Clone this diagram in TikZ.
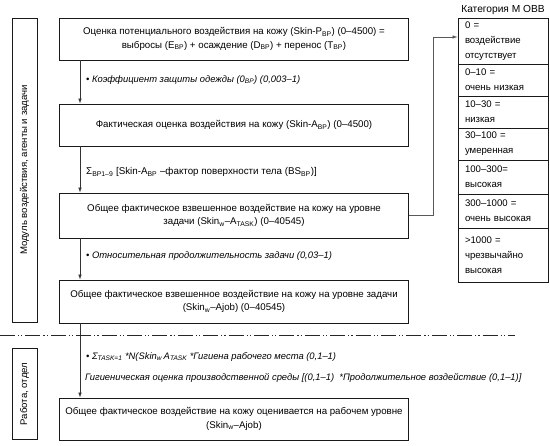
\documentclass[tikz,border=0pt]{standalone}
\usepackage{fontspec}
\setmainfont{Liberation Sans}
\usetikzlibrary{arrows.meta}
\begin{document}
\begin{tikzpicture}[x=1pt,y=-1pt,
  box/.style={draw=black!90, line width=0.8pt, minimum width=349pt, align=center, inner sep=2pt,
    font=\fontsize{9.7}{13.5}\selectfont},
  side/.style={draw=black!90, line width=0.8pt, minimum width=25pt, inner sep=0pt},
  row/.style={draw=black!90, line width=0.8pt, minimum width=90pt, text width=76pt, align=left,
    inner xsep=7pt, inner ysep=0pt, font=\fontsize{9.6}{15}\selectfont},
  lbl/.style={anchor=west, inner sep=0pt, font=\fontsize{9.4}{12}\selectfont\itshape},
  arr/.style={line width=0.6pt, draw=black!80, -{Latex[length=5pt,width=3.5pt]}}
]
\useasboundingbox (0,0) rectangle (550,446);

% left side boxes
\node[side, minimum height=304pt] (s1) at (24.5,170) {};
\node[rotate=90, font=\fontsize{9.6}{11}\selectfont] (s1t) at (s1.center) {Модуль воздействия, агенты и задачи};
\node[side, minimum height=91pt] (s2) at (24.5,394) {};
\node[rotate=90, font=\fontsize{9.6}{11}\selectfont] (s2t) at (s2.center) {Работа, отдел};

% main boxes
\node[box, minimum height=42pt] (b1) at (234,39)
  {Оценка потенциального воздействия на кожу (Skin-P\textsubscript{BP}) (0–4500) =\\
   выбросы (E\textsubscript{BP}) + осаждение (D\textsubscript{BP}) + перенос (T\textsubscript{BP})};
\node[box, minimum height=42pt] (b2) at (234,125)
  {Фактическая оценка воздействия на кожу (Skin-A\textsubscript{BP}) (0–4500)};
\node[box, minimum height=45pt] (b3) at (234,215.5)
  {Общее фактическое взвешенное воздействие на кожу на уровне\\
   задачи (Skin\textsubscript{w}–A\textsubscript{TASK}) (0–40545)};
\node[box, minimum height=43pt] (b4) at (234,301.5)
  {Общее фактическое взвешенное воздействие на кожу на уровне задачи\\
   (Skin\textsubscript{w}–Ajob) (0–40545)};
\node[box, minimum height=42pt] (b5) at (234,419)
  {Общее фактическое воздействие на кожу оценивается на рабочем уровне\\
   (Skin\textsubscript{w}–Ajob)};

% arrows
\draw[arr] (b1.south -| 80,0) -- (b2.north -| 80,0);
\draw[arr] (b2.south -| 80,0) -- (b3.north -| 80,0);
\draw[arr] (b3.south -| 80,0) -- (b4.north -| 80,0);
\draw[arr] (b4.south -| 80,0) -- (b5.north -| 80,0);

% labels
\node[lbl] (l1) at (86,80) {• Коэффициент защиты одежды (0\textsubscript{BP}) (0,003–1)};
\node[lbl, font=\fontsize{9.8}{12}\selectfont] (l2) at (86,172) {Σ\textsubscript{BP1–9} [Skin-A\textsubscript{BP} –фактор поверхности тела (BS\textsubscript{BP})]};
\node[lbl] (l3) at (86,256) {• Относительная продолжительность задачи (0,03–1)};
\node[lbl] (l4) at (86,357) {• Σ\textsubscript{TASK=1} *N(Skin\textsubscript{w}\,A\textsubscript{TASK} *Гигиена рабочего места (0,1–1)};
\node[lbl] (l5) at (85,378) {Гигиеническая оценка производственной среды [(0,1–1)~~*Продолжительное воздействие (0,1–1)]};

% dash-dot separator
\coordinate (dl) at (0,336);
\coordinate (dr) at (515,336);
\draw[line width=1pt, draw=black!85, dash pattern=on 15pt off 3pt on 1.2pt off 2pt on 1.2pt off 3pt] (dl) -- (dr);

% category table
\node[font=\fontsize{10.2}{11}\selectfont] (th) at (503,10) {Категория М ОВВ};
\node[row, minimum height=46pt] (t1) at (503,41) {0 =\\воздействие\\отсутствует};
\node[row, minimum height=32pt] (t2) at (503,80) {0–10 =\\очень низкая};
\node[row, minimum height=32pt] (t3) at (503,112) {10–30 =\\низкая};
\node[row, minimum height=32pt] (t4) at (503,144) {30–100 =\\умеренная};
\node[row, minimum height=34pt] (t5) at (503,177) {100–300=\\высокая};
\node[row, minimum height=34pt] (t6) at (503,211) {300–1000 =\\очень высокая};
\node[row, minimum height=54pt] (t7) at (503,255) {>1000 =\\чрезвычайно\\высокая};

% connector to table
\draw[arr, draw=black!65] (b3.east) -- ++(24.5,0) |- ([yshift=4pt]t1.west);
\end{tikzpicture}
\end{document}
